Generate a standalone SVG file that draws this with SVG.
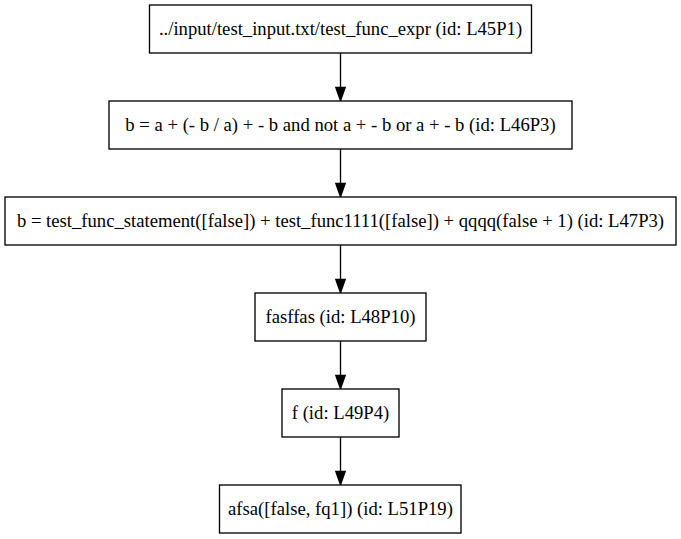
<svg xmlns="http://www.w3.org/2000/svg" width="681" height="539" viewBox="0 0 681 539">
<style>
.box{fill:#fff;stroke:#000;stroke-width:1.33}
.lbl{font-family:"Liberation Serif","Times New Roman",serif;font-size:18.67px;text-anchor:middle;fill:#000}
.edge{stroke:#000;stroke-width:1.33;fill:none}
.head{fill:#000;stroke:#000;stroke-width:1.33}
</style>
<rect width="681" height="539" fill="#fff"/>
<g id="connectors">
<path class="edge" d="M340.5 53V87.5"/><polygon class="head" points="335.8,87.5 345.2,87.5 340.5,100.8"/>
<path class="edge" d="M340.5 149V183.5"/><polygon class="head" points="335.8,183.5 345.2,183.5 340.5,196.8"/>
<path class="edge" d="M340.5 245V279.5"/><polygon class="head" points="335.8,279.5 345.2,279.5 340.5,292.8"/>
<path class="edge" d="M340.5 341V375.5"/><polygon class="head" points="335.8,375.5 345.2,375.5 340.5,388.8"/>
<path class="edge" d="M340.5 437V471.5"/><polygon class="head" points="335.8,471.5 345.2,471.5 340.5,484.8"/>
</g>
<g id="n1"><rect class="box" x="149.5" y="5" width="382" height="48"/><text class="lbl" x="340.5" y="35">../input/test_input.txt/test_func_expr (id: L45P1)</text></g>
<g id="n2"><rect class="box" x="109" y="101" width="463" height="48"/><text class="lbl" x="340.5" y="131">b = a + (- b / a) + - b and not a + - b or a + - b (id: L46P3)</text></g>
<g id="n3"><rect class="box" x="5" y="197" width="671" height="48"/><text class="lbl" x="340.5" y="227">b = test_func_statement([false]) + test_func1111([false]) + qqqq(false + 1) (id: L47P3)</text></g>
<g id="n4"><rect class="box" x="255" y="293" width="171" height="48"/><text class="lbl" x="340.5" y="323">fasffas (id: L48P10)</text></g>
<g id="n5"><rect class="box" x="282" y="389" width="117" height="48"/><text class="lbl" x="340.5" y="419">f (id: L49P4)</text></g>
<g id="n6"><rect class="box" x="219.5" y="485" width="241.5" height="48"/><text class="lbl" x="340.5" y="515">afsa([false, fq1]) (id: L51P19)</text></g>
</svg>
